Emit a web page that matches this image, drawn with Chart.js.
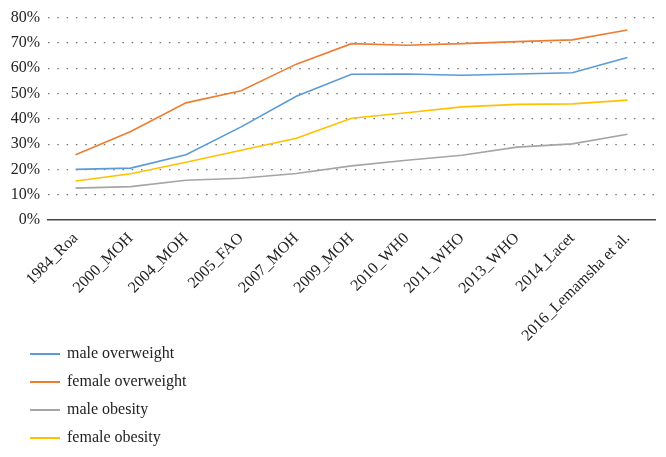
<!DOCTYPE html>
<html><head><meta charset="utf-8">
<script src="https://cdn.jsdelivr.net/npm/chart.js@4/dist/chart.umd.min.js"></script>
<style>
html,body{margin:0;padding:0;background:#fff;width:666px;height:457px;overflow:hidden;}
#wrap{position:relative;width:666px;height:345px;}
#legend{position:absolute;left:0;top:340px;font-family:"Liberation Serif","DejaVu Serif",serif;font-size:16px;color:#222;}
.li{position:absolute;left:30px;height:20px;white-space:nowrap;}
.li span.ln{position:absolute;left:0;top:10px;width:30px;height:2px;}
.li span.tx{position:absolute;left:37px;top:0;line-height:20px;}
</style></head>
<body>
<div id="wrap"><canvas id="c"></canvas></div>
<div id="legend"></div>
<script>
const categories = ["1984_Roa","2000_MOH","2004_MOH","2005_FAO","2007_MOH","2009_MOH","2010_WH0","2011_WHO","2013_WHO","2014_Lacet","2016_Lemamsha et al."];
const maleOverweight   = [20.0, 20.5, 25.8, 36.8, 48.9, 57.6, 57.7, 57.2, 57.7, 58.2, 64.2];
const femaleOverweight = [25.8, 35.0, 46.3, 51.1, 61.6, 69.7, 69.1, 69.7, 70.5, 71.2, 75.1];
const maleObesity      = [12.6, 13.2, 15.7, 16.5, 18.4, 21.4, 23.6, 25.6, 28.8, 30.1, 33.9];
const femaleObesity    = [15.4, 18.3, 22.8, 27.6, 32.3, 40.2, 42.4, 44.7, 45.7, 45.9, 47.4];
const yTicks = [0,10,20,30,40,50,60,70,80];
const seriesNames = ["male overweight","female overweight","male obesity","female obesity"];
const colors = ["#5B9BD5","#ED7D31","#A5A5A5","#FFC000"];
const seriesData = [maleOverweight, femaleOverweight, maleObesity, femaleObesity];

const font = {family:'"Liberation Serif","DejaVu Serif",serif', size:16};
const chart = new Chart(document.getElementById('c'), {
  type:'line',
  data:{
    labels:categories,
    datasets:seriesData.map((d,i)=>({label:seriesNames[i],data:d,borderColor:colors[i],backgroundColor:colors[i],borderWidth:1.6,pointRadius:0,tension:0,fill:false}))
  },
  options:{
    responsive:true,maintainAspectRatio:false,animation:false,
    layout:{padding:{top:15,right:11,left:0,bottom:0}},
    plugins:{legend:{display:false},tooltip:{enabled:false}},
    scales:{
      x:{
        offset:true,
        grid:{display:false,drawTicks:false},
        border:{display:true,color:'#444',width:1.5},
        ticks:{font:font,color:'#222',maxRotation:45,minRotation:45,autoSkip:false,padding:9},
        afterFit:(s)=>{s.height=125;}
      },
      y:{
        min:0,max:80,
        afterBuildTicks:(s)=>{s.ticks=yTicks.map(v=>({value:v}));},
        grid:{color:(ctx)=>ctx.tick && ctx.tick.value===0 ? 'rgba(0,0,0,0)' : '#777',lineWidth:1.2,drawTicks:false,tickBorderDash:[1.5,7.8]},
        border:{display:false,dash:[1.5,7.8]},
        ticks:{font:font,color:'#222',padding:8,callback:(v)=>v+'%'},
        afterFit:(s)=>{s.width=48;}
      }
    }
  }
});

const lg=document.getElementById('legend');
seriesNames.forEach((n,i)=>{
  const d=document.createElement('div');d.className='li';d.style.top=(i*28+3)+'px';
  d.innerHTML='<span class="ln" style="background:'+colors[i]+'"></span><span class="tx">'+n+'</span>';
  lg.appendChild(d);
});
</script>
</body></html>
